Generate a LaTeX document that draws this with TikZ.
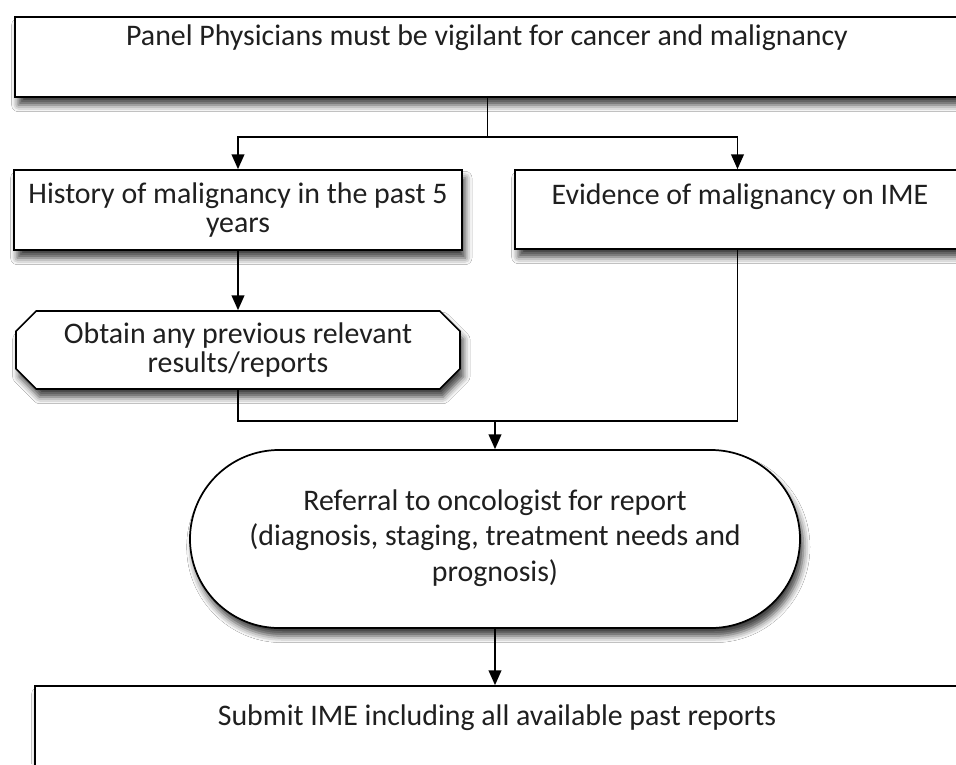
\documentclass[tikz,border=0pt]{standalone}
\usepackage{fontspec}
\setmainfont{Carlito}
\usetikzlibrary{shapes.misc,arrows.meta,shadows.blur}
\tikzset{
  box/.style={draw=black, line width=1.3pt, fill=white, inner sep=0pt,
    blur shadow={shadow xshift=2.5pt, shadow yshift=-6pt, shadow blur radius=5pt, shadow opacity=75}},
  txt/.style={font=\fontsize{22.4}{22}\selectfont, align=center, text=black!88},
  ln/.style={line width=1.1pt},
  arr/.style={line width=1.1pt, -{Triangle[width=9.5pt,length=11pt]}}
}
\begin{document}
\begin{tikzpicture}[x=0.75pt,y=-0.75pt]
\useasboundingbox[fill=white] (0,0) rectangle (956,764);
% top box
\node[box, minimum width=708.75pt, minimum height=60pt] (top) at (487.5,57) {};
\node[txt] (toptext) at (487,38) {Panel Physicians must be vigilant for cancer and malignancy};
% second row
\node[box, txt, minimum width=336pt, minimum height=60pt] (hist) at (238,210) {History of malignancy in the past 5\\years};
\node[box, minimum width=333.75pt, minimum height=59.25pt] (evid) at (737.5,209.5) {};
\node[txt] (evidtext) at (740,197) {Evidence of malignancy on IME};
% obtain
\node[box, txt, chamfered rectangle, chamfered rectangle xsep=12pt, minimum width=333pt, minimum height=58.5pt] (obt) at (238,350) {Obtain any previous relevant\\results/reports};
% stadium
\node[box, txt, rounded rectangle, minimum width=457.5pt, minimum height=133.5pt] (stad) at (495,539) {};
\node[txt, font=\fontsize{22.4}{26.5}\selectfont] (stadtext) at (495,538) {Referral to oncologist for report\\(diagnosis, staging, treatment needs and\\prognosis)};
% bottom
\node[box, minimum width=697.5pt, minimum height=60pt] (bot) at (500,726) {};
\node[txt] (bottext) at (497,718) {Submit IME including all available past reports};
% connectors
\coordinate (split) at (487.5,137);
\coordinate (merge) at (495,421);
\draw[ln] (top.south) -- (split);
\draw[arr] (split) -| (hist.north);
\draw[arr] (split) -| (evid.north);
\draw[arr] (hist.south) -- (obt.north);
\draw[ln] (obt.south) |- (merge) -| (evid.south);
\draw[arr] (merge) -- (stad.north);
\draw[arr] (stad.south) -- (stad.south |- bot.north);
\end{tikzpicture}
\end{document}
